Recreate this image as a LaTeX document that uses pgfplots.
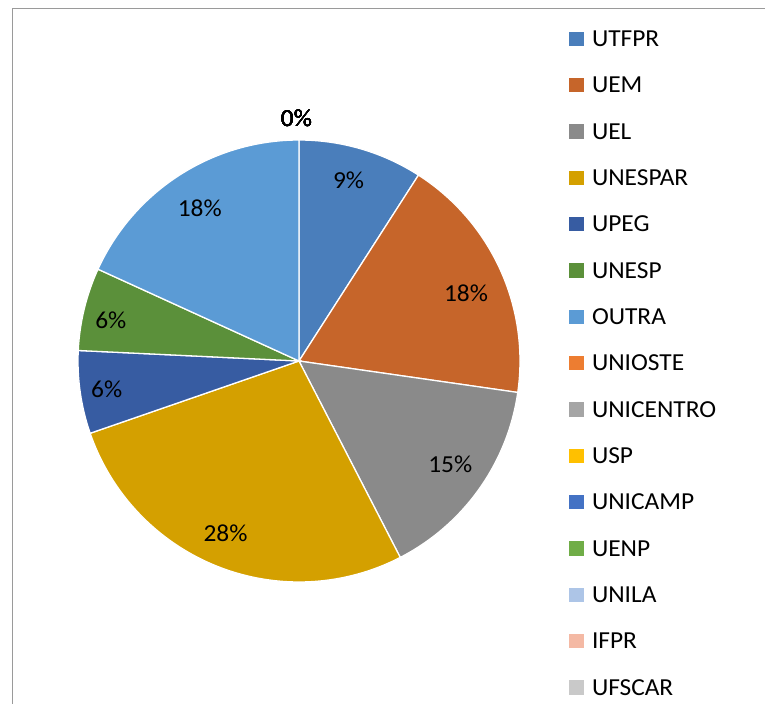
\documentclass[border=0pt]{standalone}
\usepackage{pgfplots}
\usepackage{pgfplotstable}
\pgfplotsset{compat=1.18}
\usepackage{fontspec}
\setmainfont{Carlito}[FakeStretch=1.04]

\definecolor{cUTFPR}{HTML}{4A7EBB}
\definecolor{cUEM}{HTML}{C6652A}
\definecolor{cUEL}{HTML}{8A8A8A}
\definecolor{cUNESPAR}{HTML}{D4A000}
\definecolor{cUPEG}{HTML}{375CA2}
\definecolor{cUNESP}{HTML}{5B903A}
\definecolor{cOUTRA}{HTML}{5B9BD5}
\definecolor{cUNIOSTE}{HTML}{ED7D31}
\definecolor{cUNICENTRO}{HTML}{A5A5A5}
\definecolor{cUSP}{HTML}{FFC000}
\definecolor{cUNICAMP}{HTML}{4472C4}
\definecolor{cUENP}{HTML}{70AD47}
\definecolor{cUNILA}{HTML}{ADC5E7}
\definecolor{cIFPR}{HTML}{F4B9A4}
\definecolor{cUFSCAR}{HTML}{C9C9C9}
\definecolor{framegray}{HTML}{9A9A9A}

\newcommand\lbl{\fontsize{24.5}{29}\selectfont}

% count = slice size, pct = label shown, lx/ly = label centre (px, y down)
\pgfplotstableread{
name      count pct lx    ly    col
UTFPR     3     9   348.5 180.7 cUTFPR
UEM       6     18  466.0 293.8 cUEM
UEL       5     15  450.3 464.5 cUEL
UNESPAR   9     28  225.5 533.3 cUNESPAR
UPEG      2     6   106.7 389.5 cUPEG
UNESP     2     6   110.8 320.3 cUNESP
OUTRA     6     18  199.7 208.8 cOUTRA
UNIOSTE   0     0   296.5 119.2 cUNIOSTE
UNICENTRO 0     0   296.5 119.2 cUNICENTRO
USP       0     0   296.5 119.2 cUSP
UNICAMP   0     0   296.5 119.2 cUNICAMP
UENP      0     0   296.5 119.2 cUENP
UNILA     0     0   296.5 119.2 cUNILA
IFPR      0     0   296.5 119.2 cIFPR
UFSCAR    0     0   296.5 119.2 cUFSCAR
}\pietable

\begin{document}
\begin{tikzpicture}
\begin{axis}[
    scale only axis,
    width=765bp, height=704bp,
    xmin=0, xmax=765, ymin=0, ymax=704,
    y dir=reverse,
    hide axis,
    clip=false,
]
% chart area border (only top and left are visible)
\draw[framegray, line width=1.5bp] (axis cs:12.5,704) -- (axis cs:12.5,8.5) -- (axis cs:765,8.5);

\pgfplotstablegetrowsof{\pietable}
\pgfmathtruncatemacro{\nrows}{\pgfplotsretval-1}
\def\total{0}
\pgfplotsforeachungrouped \i in {0,...,\nrows}{%
  \pgfplotstablegetelem{\i}{count}\of\pietable
  \pgfmathsetmacro\total{\total+\pgfplotsretval}%
}

% slices
\def\cum{0}
\pgfplotsforeachungrouped \i in {0,...,\nrows}{%
  \pgfplotstablegetelem{\i}{count}\of\pietable \let\cnt\pgfplotsretval
  \pgfplotstablegetelem{\i}{col}\of\pietable \let\col\pgfplotsretval
  \pgfmathsetmacro\aA{90-360*\cum/\total}%
  \pgfmathsetmacro\aB{90-360*(\cum+\cnt)/\total}%
  \ifdim\cnt pt>0pt
    \edef\temp{\noexpand\filldraw[fill=\col, draw=white, line width=1.3bp]
      (axis cs:299,361) -- ++(\aA:221bp) arc[start angle=\aA, end angle=\aB, radius=221bp] -- cycle;}\temp
  \fi
  \pgfmathsetmacro\cum{\cum+\cnt}%
}

% data labels
\pgfplotsforeachungrouped \i in {0,...,\nrows}{%
  \pgfplotstablegetelem{\i}{pct}\of\pietable \let\pct\pgfplotsretval
  \pgfplotstablegetelem{\i}{lx}\of\pietable \let\lx\pgfplotsretval
  \pgfplotstablegetelem{\i}{ly}\of\pietable \let\lyc\pgfplotsretval
  \pgfmathsetmacro\ly{\lyc+7.7}%
  \edef\temp{\noexpand\node[font=\noexpand\lbl, anchor=base, inner sep=0pt]
    at (axis cs:\lx,\ly) {\pct\noexpand\%};}\temp
}

% legend
\pgfplotsforeachungrouped \i in {0,...,\nrows}{%
  \pgfplotstablegetelem{\i}{name}\of\pietable \let\nm\pgfplotsretval
  \pgfplotstablegetelem{\i}{col}\of\pietable \let\col\pgfplotsretval
  \pgfmathsetmacro\yc{38.9+46.33*\i}%
  \pgfmathsetmacro\yt{\yc-7.2}%
  \pgfmathsetmacro\yb{\yc+7.2}%
  \pgfmathsetmacro\ybase{\yc+7.6}%
  \edef\temp{\noexpand\fill[\col] (axis cs:569.3,\yt) rectangle (axis cs:583.7,\yb);
    \noexpand\node[font=\noexpand\lbl, anchor=base west, inner sep=0pt]
    at (axis cs:591.8,\ybase) {\nm};}\temp
}
\end{axis}
\pgfresetboundingbox
\path (0,0) rectangle (765bp,704bp);
\end{tikzpicture}
\end{document}
